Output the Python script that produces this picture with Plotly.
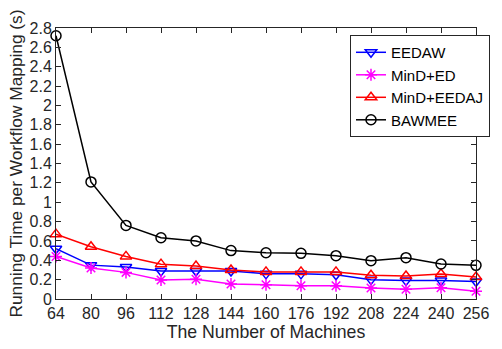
import plotly.graph_objects as go

machines = [64, 80, 96, 112, 128, 144, 160, 176, 192, 208, 224, 240, 256]

eedaw = [0.52, 0.35, 0.33, 0.29, 0.29, 0.29, 0.26, 0.26, 0.25, 0.20, 0.19, 0.19, 0.18]
mind_ed = [0.44, 0.32, 0.275, 0.196, 0.205, 0.155, 0.148, 0.137, 0.137, 0.114, 0.10, 0.117, 0.08]
mind_eedaj = [0.67, 0.54, 0.44, 0.36, 0.34, 0.30, 0.28, 0.28, 0.28, 0.245, 0.237, 0.258, 0.227]
bawmee = [2.72, 1.21, 0.76, 0.633, 0.60, 0.50, 0.478, 0.472, 0.448, 0.396, 0.427, 0.362, 0.348]

y_ticks = [round(0.2 * i, 1) for i in range(15)]
y_tick_text = [("%g" % v) for v in y_ticks]

series = [
    ("EEDAW", eedaw, "#0000ff", "triangle-down-open"),
    ("MinD+ED", mind_ed, "#ff00ff", "asterisk-open"),
    ("MinD+EEDAJ", mind_eedaj, "#ff0000", "triangle-up-open"),
    ("BAWMEE", bawmee, "#000000", "circle-open"),
]

FONT = "Liberation Sans, Arial, Helvetica, sans-serif"

fig = go.Figure()
for name, vals, color, symbol in series:
    fig.add_trace(go.Scatter(
        x=machines, y=vals, name=name, mode="lines+markers",
        line=dict(color=color, width=1.5),
        marker=dict(symbol=symbol, size=10, color=color, line=dict(width=1.5, color=color)),
        cliponaxis=False,
    ))

axis_common = dict(
    showline=True, linecolor="#262626", linewidth=1, mirror="ticks",
    ticks="inside", ticklen=5, tickcolor="#262626", showgrid=False, zeroline=False,
    tickfont=dict(family=FONT, size=16, color="#262626"),
)

fig.update_layout(
    width=502, height=349,
    margin=dict(l=56, r=12, t=28, b=50),
    paper_bgcolor="white", plot_bgcolor="white",
    font=dict(family=FONT, color="#262626"),
    xaxis=dict(range=[64, 256], tickvals=machines, ticktext=[str(m) for m in machines],
               title=dict(text="The Number of Machines", font=dict(size=17.7), standoff=2),
               **axis_common),
    yaxis=dict(range=[0, 2.8], tickvals=y_ticks, ticktext=y_tick_text,
               title=dict(text="Running Time per Workflow Mapping (s)", font=dict(size=17.3), standoff=2),
               **axis_common),
    legend=dict(x=0.70, y=0.974, xanchor="left", yanchor="top",
                bordercolor="#262626", borderwidth=1, bgcolor="white",
                font=dict(size=15, color="#000000"), tracegroupgap=0,
                itemwidth=30),
    showlegend=True,
)

fig.write_html("out.html")
